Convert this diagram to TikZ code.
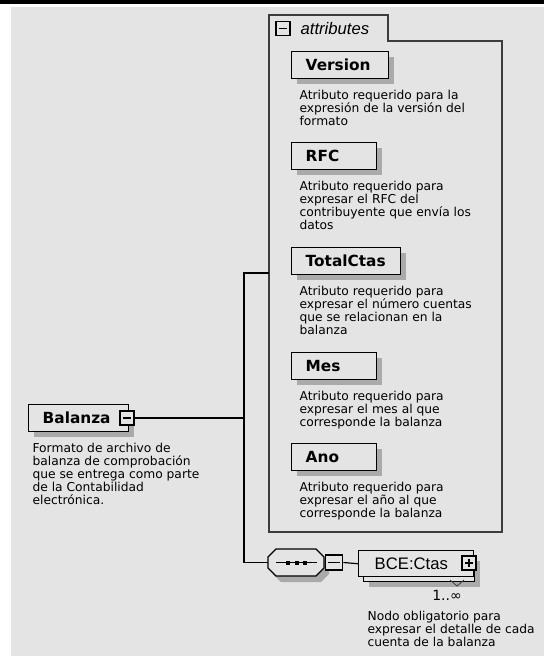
\documentclass[tikz,border=0pt]{standalone}
\usepackage{fontspec}
\setmainfont{DejaVu Sans}
\newfontfamily\arialfont{Liberation Sans}
\usetikzlibrary{positioning,shadows}
\definecolor{bgc}{RGB}{228,228,228}
\definecolor{shadowc}{RGB}{170,170,170}
\definecolor{framec}{RGB}{60,60,60}
\newcommand{\descfont}{\fontsize{9.2}{9.75}\selectfont}
\newcommand{\namefont}{\fontsize{11.5}{13}\selectfont\bfseries}

\begin{document}
\begin{tikzpicture}[
        x=0.75pt, y=-0.75pt,
        line width=0.9pt,
        elem/.style={draw, fill=bgc, line width=1.1pt, anchor=north west,
          minimum height=20.25pt, inner ysep=0pt, inner xsep=10.5pt,
          text width=#1, align=left, font=\namefont,
          drop shadow={shadow xshift=3.75pt, shadow yshift=-3.75pt,
            fill=shadowc, opacity=1}},
        desc/.style={align=left, inner sep=0pt, font=\descfont},
        minusbox/.style={draw, fill=bgc, line width=1.2pt, minimum size=10.5pt,
          inner sep=0pt,
          path picture={\draw[line width=0.8pt]
            ([xshift=2pt]path picture bounding box.west) --
            ([xshift=-2pt]path picture bounding box.east);}},
        plusbox/.style={draw, fill=bgc, line width=1.2pt, minimum size=10.5pt,
          inner sep=0pt,
          path picture={\draw[line width=0.8pt]
            ([xshift=2pt]path picture bounding box.west) --
            ([xshift=-2pt]path picture bounding box.east)
            ([yshift=-2pt]path picture bounding box.north) --
            ([yshift=2pt]path picture bounding box.south);}}
    ]
    \useasboundingbox (0,0) rectangle (544,656);

    % Background
    \fill[black] (0,0) rectangle (544,4);
    \fill[bgc] (11,7) rectangle (544,656);

    % attributes group
    \draw[framec, line width=1pt]
      (269,41) -- (269,15) -- (388,15) -- (388,41) -- (502,41)
      -- (502,532) -- (269,532) -- cycle;
    \node[minusbox] (attrm) at (283,28.5) {};
    \node[anchor=west, inner sep=0pt,
      font=\arialfont\itshape\fontsize{12.5}{14}\selectfont]
      (attrlbl) at (300,28.5) {attributes};

    % Connectors
    \coordinate (jn) at (244,418);
    \coordinate (attrin) at (269,273);
    \coordinate (seqin) at (268,562.5);
    \draw (attrin) -| (jn) |- (seqin);

    % Attributes
    \node[elem=51.75pt] (version) at (291,51) {Version};
    \node[desc, below right=7.5pt and 6pt of version.south west]
      {Atributo requerido para la\\expresión de la versión del\\formato};

    \node[elem=42.75pt] (rfc) at (291,142) {RFC};
    \node[desc, below right=7.5pt and 6pt of rfc.south west]
      {Atributo requerido para\\expresar el RFC del\\contribuyente que envía los\\datos};

    \node[elem=60.75pt] (totalctas) at (291,247) {TotalCtas};
    \node[desc, below right=7.5pt and 6pt of totalctas.south west]
      {Atributo requerido para\\expresar el número cuentas\\que se relacionan en la\\balanza};

    \node[elem=42.75pt] (mes) at (291,352) {Mes};
    \node[desc, below right=7.5pt and 6pt of mes.south west]
      {Atributo requerido para\\expresar el mes al que\\corresponde la balanza};

    \node[elem=42.75pt] (ano) at (291,443) {Ano};
    \node[desc, below right=7.5pt and 6pt of ano.south west]
      {Atributo requerido para\\expresar el año al que\\corresponde la balanza};

    % Root element
    \node[elem=54pt] (balanza) at (28,404) {Balanza};
    \node[minusbox] (balm) at (127,418) {};
    \draw (balm.east) -- (jn);
    \node[desc, below right=7.5pt and 3pt of balanza.south west]
      {Formato de archivo de\\balanza de comprobación\\que se entrega como parte\\de la Contabilidad\\electrónica.};

    % Sequence
    \fill[shadowc, shift={(5,6)}]
      (276,549) -- (316,549) -- (324,557) -- (324,568) -- (316,576)
      -- (276,576) -- (268,568) -- (268,557) -- cycle;
    \draw[fill=bgc, line width=1pt]
      (276,549) -- (316,549) -- (324,557) -- (324,568) -- (316,576)
      -- (276,576) -- (268,568) -- (268,557) -- cycle;
    \draw[line width=0.8pt] (276,562.5) -- (317,562.5);
    \foreach \dx in {288,297,305}
      \fill (\dx-2,560.5) rectangle (\dx+2,564.5);
    \node[minusbox, minimum width=13pt, minimum height=11.5pt] (seqm) at (334,562.5) {};

    % BCE:Ctas (1..unbounded)
    \node[elem=62.25pt, minimum height=19.5pt] (bceback) at (363,555) {};
    \node[draw, fill=bgc, line width=1.1pt, anchor=north west, minimum height=19.5pt,
      inner ysep=0pt, inner xsep=12pt, text width=62.25pt, align=left,
      font=\arialfont\fontsize{12.5}{14}\selectfont] (bce) at (358,550) {BCE:Ctas};
    \node[plusbox] (bcep) at (469,563) {};
    \draw[framec, line width=0.6pt] (450,580) -- (457,586) -- (464,580);
    \draw (seqm.east) -- (bce.west);
    \node[font=\fontsize{10.5}{12}\selectfont] (bcemult) at (447,595) {1..∞};
    \node[desc, anchor=north west] (bcedesc) at (367,611)
      {Nodo obligatorio para\\expresar el detalle de cada\\cuenta de la balanza};
\end{tikzpicture}
\end{document}
